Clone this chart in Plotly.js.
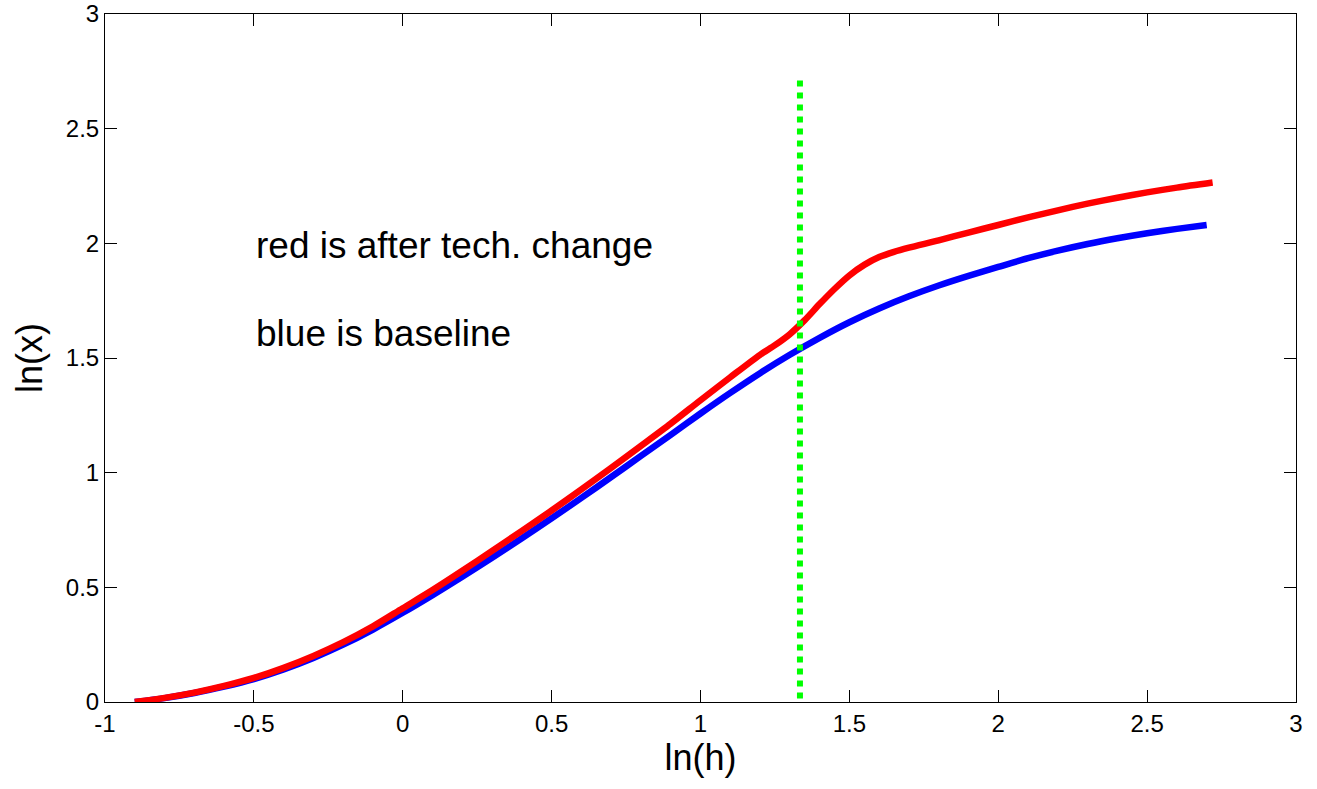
<!DOCTYPE html>
<html>
<head>
<meta charset="utf-8">
<script src="https://cdn.plot.ly/plotly-3.0.1.min.js"></script>
<style>
  html, body { margin: 0; padding: 0; background: #fff; }
  #chart { width: 1317px; height: 789px; }
</style>
</head>
<body>
<div id="chart"></div>
<script>
// Baseline path: ln(x) against ln(h)
const baseLnH = [-0.9, -0.8, -0.7, -0.6, -0.5, -0.4, -0.3, -0.2, -0.1, 0, 0.1, 0.2, 0.3, 0.4, 0.5, 0.6,
                 0.7, 0.8, 0.9, 1.0, 1.1, 1.2, 1.3, 1.4, 1.5, 1.6, 1.7, 1.8, 1.9, 2.0, 2.1, 2.2, 2.3,
                 2.4, 2.5, 2.6, 2.7];
const baseLnX = [0, 0.017, 0.039, 0.067, 0.100, 0.142, 0.192, 0.250, 0.316, 0.389, 0.466, 0.546, 0.629,
                 0.714, 0.801, 0.890, 0.981, 1.073, 1.165, 1.258, 1.348, 1.434, 1.514, 1.588, 1.656, 1.716,
                 1.769, 1.816, 1.858, 1.897, 1.935, 1.968, 1.997, 2.022, 2.044, 2.063, 2.080];

// Path after the technology change
const techLnH = [-0.9, -0.8, -0.7, -0.6, -0.5, -0.4, -0.3, -0.2, -0.1, 0, 0.1, 0.2, 0.3, 0.4, 0.5, 0.6,
                 0.7, 0.8, 0.9, 1.0, 1.1, 1.2, 1.25, 1.3, 1.35, 1.4, 1.45, 1.5, 1.55, 1.6, 1.65, 1.7, 1.8,
                 1.9, 2.0, 2.1, 2.2, 2.3, 2.4, 2.5, 2.6, 2.72];
const techLnX = [0, 0.018, 0.041, 0.070, 0.105, 0.149, 0.201, 0.261, 0.330, 0.409, 0.488, 0.572, 0.659,
                 0.746, 0.835, 0.927, 1.021, 1.117, 1.214, 1.316, 1.416, 1.514, 1.556, 1.604, 1.665, 1.735,
                 1.801, 1.860, 1.906, 1.940, 1.963, 1.981, 2.013, 2.047, 2.080, 2.113, 2.144, 2.173, 2.199,
                 2.222, 2.243, 2.265];

// Vertical marker where the change takes effect
const changeLnH = [1.334, 1.334];
const changeLnX = [2.71, 0];

// Axis ticks
const xTickVals = [-1, -0.5, 0, 0.5, 1, 1.5, 2, 2.5, 3];
const xTickText = ['-1', '-0.5', '0', '0.5', '1', '1.5', '2', '2.5', '3'];
const yTickVals = [0, 0.5, 1, 1.5, 2, 2.5, 3];
const yTickText = ['0', '0.5', '1', '1.5', '2', '2.5', '3'];

const FONT = 'Liberation Sans, Arial, Helvetica, sans-serif';

const traces = [
  { x: baseLnH, y: baseLnX, mode: 'lines', line: { color: '#0000ff', width: 6.5, shape: 'spline', smoothing: 0.8 }, hoverinfo: 'skip' },
  { x: techLnH, y: techLnX, mode: 'lines', line: { color: '#ff0000', width: 6.5, shape: 'spline', smoothing: 0.8 }, hoverinfo: 'skip' },
  { x: changeLnH, y: changeLnX, mode: 'lines', line: { color: '#00ff00', width: 6, dash: 'dot' }, hoverinfo: 'skip' }
];

const axisCommon = {
  showgrid: false, zeroline: false,
  showline: true, linecolor: '#000', linewidth: 1, mirror: 'ticks',
  ticks: 'inside', ticklen: 12, tickwidth: 1, tickcolor: '#000',
  tickfont: { family: FONT, size: 24, color: '#000' },
  tickmode: 'array'
};

const layout = {
  width: 1317, height: 789,
  margin: { l: 105, r: 21, t: 14, b: 87 },
  paper_bgcolor: '#fff', plot_bgcolor: '#fff',
  showlegend: false,
  xaxis: Object.assign({}, axisCommon, {
    range: [-1, 3], tickvals: xTickVals, ticktext: xTickText,
    title: { text: 'ln(h)', font: { family: FONT, size: 36, color: '#000' }, standoff: 2 }
  }),
  yaxis: Object.assign({}, axisCommon, {
    range: [0, 3], tickvals: yTickVals, ticktext: yTickText,
    title: { text: 'ln(x)', font: { family: FONT, size: 36, color: '#000' }, standoff: 12 }
  }),
  annotations: [
    { x: -0.5, y: 1.99, xref: 'x', yref: 'y', xanchor: 'left', yanchor: 'middle', showarrow: false,
      text: 'red is after tech. change', font: { family: FONT, size: 37, color: '#000' } },
    { x: -0.5, y: 1.605, xref: 'x', yref: 'y', xanchor: 'left', yanchor: 'middle', showarrow: false,
      text: 'blue is baseline', font: { family: FONT, size: 37, color: '#000' } }
  ]
};

Plotly.newPlot('chart', traces, layout, { staticPlot: true, displayModeBar: false });
</script>
</body>
</html>
